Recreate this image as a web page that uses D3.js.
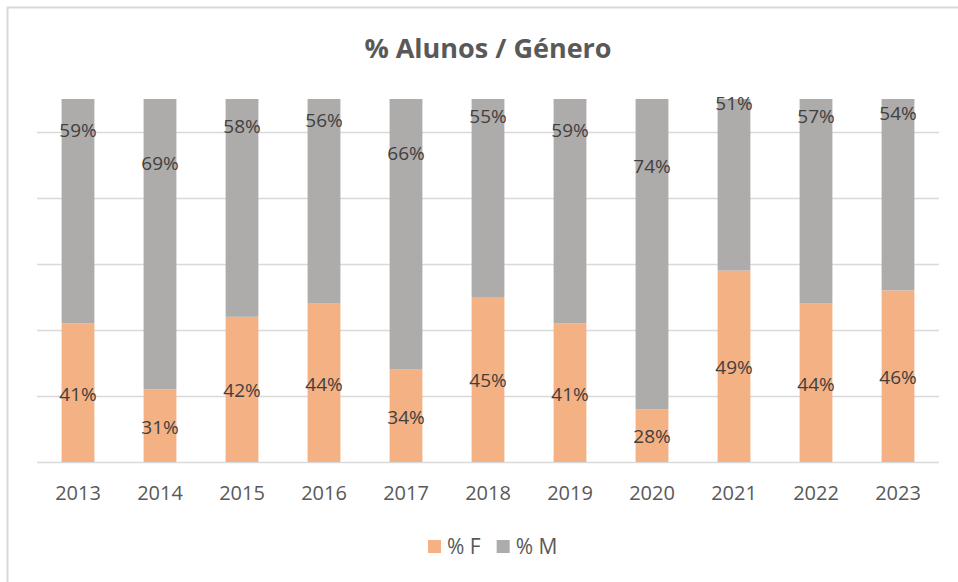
<!DOCTYPE html>
<html>
<head>
<meta charset="utf-8">
<script src="https://cdn.jsdelivr.net/npm/d3@7"></script>
<style>
  body { margin: 0; background: #fff; }
  svg { display: block; font-family: "Open Sans", sans-serif; }
</style>
</head>
<body>
<div id="chart"></div>
<script>
// values (shares of students by gender)
const years = ["2013", "2014", "2015", "2016", "2017", "2018", "2019", "2020", "2021", "2022", "2023"];
const pctF = [0.41, 0.31, 0.42, 0.44, 0.34, 0.45, 0.41, 0.28, 0.49, 0.44, 0.46];
const pctM = [0.59, 0.69, 0.58, 0.56, 0.66, 0.55, 0.59, 0.74, 0.51, 0.57, 0.54];
const seriesNames = ["% F", "% M"];
const colors = ["#F4B183", "#AEABAB"];

const W = 958, H = 582;
const plot = { left: 37, right: 939, top: 99, bottom: 462 };

const rows = years.map((y, i) => ({ year: y, F: pctF[i], M: pctM[i] }));
const stack = d3.stack().keys(["F", "M"])(rows);

const x = d3.scaleBand()
  .domain(years)
  .range([plot.left, plot.right])
  .paddingInner(0.6)
  .paddingOuter(0.3);

// value axis doesn't start at 0 in the original (min 20%, max 75%)
const y = d3.scaleLinear()
  .domain([0.2, 0.75])
  .range([plot.bottom, plot.top]);

const svg = d3.select("#chart").append("svg")
  .attr("width", W)
  .attr("height", H);

svg.append("rect")
  .attr("x", 7.5).attr("y", 7.5)
  .attr("width", W + 20).attr("height", H + 20)
  .attr("fill", "#fff")
  .attr("stroke", "#D9D9D9")
  .attr("stroke-width", 2);

svg.append("text")
  .attr("x", (plot.left + plot.right) / 2)
  .attr("y", 58)
  .attr("text-anchor", "middle")
  .attr("font-size", 27)
  .attr("font-weight", "bold")
  .attr("fill", "#595959")
  .text("% Alunos / Género");

svg.append("clipPath").attr("id", "plotclip")
  .append("rect")
  .attr("x", plot.left).attr("y", plot.top)
  .attr("width", plot.right - plot.left)
  .attr("height", plot.bottom - plot.top);

// gridlines
svg.append("g")
  .selectAll("line")
  .data(d3.range(0.2, 0.75, 0.1))
  .join("line")
  .attr("x1", plot.left).attr("x2", plot.right)
  .attr("y1", d => Math.round(y(d)) + 0.5)
  .attr("y2", d => Math.round(y(d)) + 0.5)
  .attr("stroke", "#D9D9D9")
  .attr("stroke-width", 1.5);

svg.append("g")
  .attr("clip-path", "url(#plotclip)")
  .selectAll("g")
  .data(stack)
  .join("g")
  .attr("fill", (d, i) => colors[i])
  .selectAll("rect")
  .data(d => d)
  .join("rect")
  .attr("x", d => x(d.data.year))
  .attr("width", x.bandwidth())
  .attr("y", d => y(d[1]))
  .attr("height", d => y(d[0]) - y(d[1]));

// data labels, centred in the part of the segment above the axis minimum
const lo = y.domain()[0];
svg.append("g")
  .selectAll("g")
  .data(stack)
  .join("g")
  .selectAll("text")
  .data(d => d.map(p => ({ p, key: d.key })))
  .join("text")
  .attr("x", d => x(d.p.data.year) + x.bandwidth() / 2)
  .attr("y", d => y((Math.max(d.p[0], lo) + d.p[1]) / 2) + 1)
  .attr("dy", "0.36em")
  .attr("text-anchor", "middle")
  .attr("font-size", 19)
  .attr("fill", "#404040")
  .text(d => Math.round(d.p.data[d.key] * 100) + "%");

// category axis
const xAxis = svg.append("g")
  .attr("transform", `translate(0,${plot.bottom})`)
  .call(d3.axisBottom(x).tickSize(0).tickPadding(24));
xAxis.select(".domain").remove();
xAxis.selectAll("text")
  .attr("font-size", 20)
  .attr("font-family", "Open Sans, sans-serif")
  .attr("fill", "#595959");

// legend
const legend = svg.append("g").attr("transform", "translate(428,540)");
let lx = 0;
seriesNames.forEach((name, i) => {
  const g = legend.append("g").attr("transform", `translate(${lx},0)`);
  g.append("rect").attr("width", 13).attr("height", 13).attr("fill", colors[i]);
  const t = g.append("text")
    .attr("x", 19).attr("y", 14)
    .attr("font-size", 21)
    .attr("fill", "#595959")
    .text(name);
  lx += 19 + t.node().getComputedTextLength() + 16;
});
</script>
</body>
</html>
